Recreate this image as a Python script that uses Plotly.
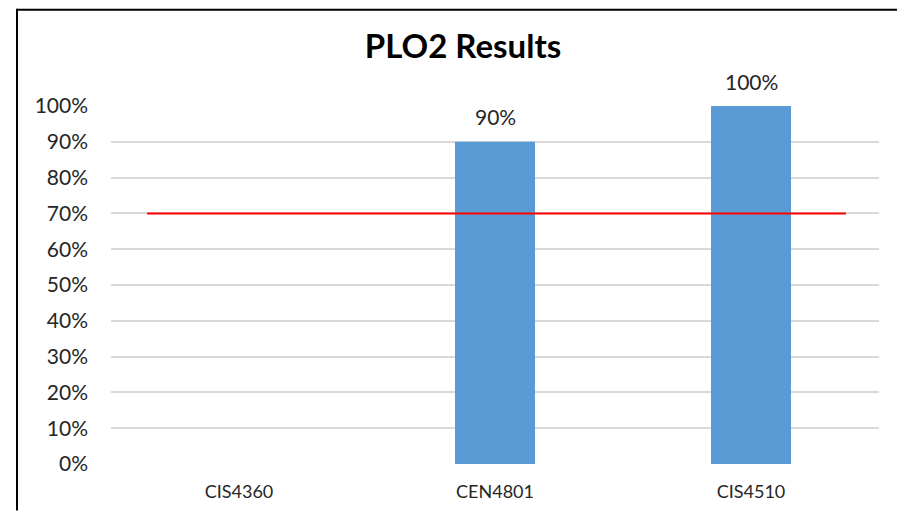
import plotly.graph_objects as go

categories = ["CIS4360", "CEN4801", "CIS4510"]
results = [None, 0.90, 1.00]
result_labels = ["", "90%", "100%"]
threshold = 0.70
y_ticks = [i / 10 for i in range(11)]
y_tick_labels = [f"{i*10}%" for i in range(11)]

FONT = "Lato"
TXT = "#262626"

# page has an 8px body margin; size the figure so it fits without scrollbars
OFF = 8
W, H = 905 - 2 * OFF, 522 - 2 * OFF
PL, PR, PT, PB = 111, 879, 106, 467  # plot area in page pixels

fig = go.Figure()
fig.add_trace(go.Bar(
    x=categories, y=results,
    marker=dict(color="#5B9BD5", line=dict(width=0)),
    width=0.3125,
    hoverinfo="skip",
))

for c, v, t in zip(categories, results, result_labels):
    if v is None:
        continue
    fig.add_annotation(x=c, y=v, text=t, showarrow=False,
                       yanchor="middle", yshift=25,
                       font=dict(family=FONT, size=21, color=TXT))

# threshold line
fig.add_shape(type="line", xref="x", yref="y",
              x0=-0.359, x1=2.371, y0=threshold, y1=threshold,
              line=dict(color="#FF0000", width=2), layer="above")

pw, ph = PR - PL, PB - PT
bx = (17 - PL) / pw
by = (PB - (OFF + 1)) / ph
bx_end = (OFF + W - PL) / pw
by_end = (PB - (OFF + H)) / ph
# outer chart frame: only top and left edges are inside the picture
fig.add_shape(type="line", xref="paper", yref="paper",
              x0=bx, x1=bx_end, y0=by, y1=by,
              line=dict(color="#000000", width=2), layer="above")
fig.add_shape(type="rect", xref="paper", yref="paper",
              x0=bx - 1 / pw, x1=bx + 1 / pw, y0=by_end, y1=by + 1 / ph,
              fillcolor="#000000", line=dict(width=0), layer="above")

fig.update_layout(
    width=W, height=H,
    margin=dict(l=PL - OFF, r=W + OFF - PR, t=PT - OFF, b=H + OFF - PB),
    paper_bgcolor="white", plot_bgcolor="white",
    showlegend=False,
    title=dict(text="<b>PLO2 Results</b>", x=(463 - OFF) / W, xanchor="center",
               y=1 - (46 - OFF) / H, yanchor="middle", yref="container",
               font=dict(family=FONT, size=33, color="#000000")),
    xaxis=dict(type="category", range=[-0.5, 2.5], showgrid=False,
               showline=False, ticks="",
               ticklabelstandoff=15,
               tickfont=dict(family=FONT, size=18, color=TXT)),
    yaxis=dict(range=[0, 1], tickvals=y_ticks, ticktext=y_tick_labels,
               showgrid=True, gridcolor="#D9D9D9", gridwidth=1.5,
               zeroline=False, showline=False, ticks="",
               ticklabelstandoff=22,
               tickfont=dict(family=FONT, size=21, color=TXT)),
)

fig.write_html("out.html")
